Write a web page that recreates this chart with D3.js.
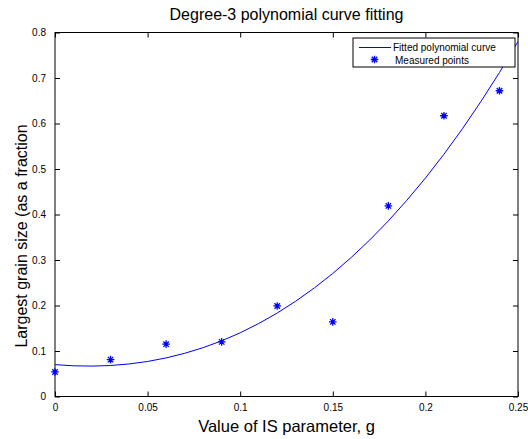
<!DOCTYPE html>
<html>
<head>
<meta charset="utf-8">
<script src="https://cdn.jsdelivr.net/npm/d3@7"></script>
<style>
  html, body { margin: 0; background: #fff; overflow: hidden; }
  svg { display: block; }
  text { font-family: "Liberation Sans", Arial, sans-serif; }
</style>
</head>
<body>
<svg id="chart"></svg>
<script>
// measured points
const gValues = [0, 0.03, 0.06, 0.09, 0.12, 0.15, 0.18, 0.21, 0.24];
const grainValues = [0.054, 0.081, 0.115, 0.12, 0.199, 0.164, 0.419, 0.617, 0.672];

// fitted curve
const curveG = [0, 0.01, 0.02, 0.03, 0.04, 0.05, 0.06, 0.07, 0.08, 0.09, 0.1, 0.11, 0.12, 0.13,
  0.14, 0.15, 0.16, 0.17, 0.18, 0.19, 0.2, 0.21, 0.22, 0.23, 0.24, 0.25];
const curveValues = [0.070, 0.0675, 0.0668, 0.0681, 0.0715, 0.077, 0.0848, 0.0949, 0.1074, 0.1224,
  0.14, 0.1604, 0.1835, 0.2095, 0.2385, 0.2705, 0.3058, 0.3442, 0.386, 0.4313, 0.48, 0.5324,
  0.5885, 0.6485, 0.7121, 0.78];

const xTicks = [0, 0.05, 0.1, 0.15, 0.2, 0.25];
const yTicks = [0, 0.1, 0.2, 0.3, 0.4, 0.5, 0.6, 0.7, 0.8];

const width = 528;
const height = 439;
const margin = { top: 32.5, right: 10, bottom: 42.5, left: 55 };
const innerWidth = width - margin.left - margin.right;
const innerHeight = height - margin.top - margin.bottom;

const svg = d3.select("#chart").attr("width", width).attr("height", height);
const g = svg.append("g").attr("transform", `translate(${margin.left},${margin.top})`);

const x = d3.scaleLinear().domain([0, 0.25]).range([0, innerWidth]);
const y = d3.scaleLinear().domain([0, 0.8]).range([innerHeight, 0]);

const fmt = (d) => (d === 0 ? "0" : String(d));

// axes, ticks inward like matlab
const styleAxis = (sel) => {
  sel.select(".domain").remove();
  sel.selectAll("line").attr("stroke", "#000");
  sel.selectAll("text").style("font-size", "10px").attr("fill", "#000");
};
const bareAxis = (sel) => {
  styleAxis(sel);
  sel.selectAll("text").remove();
};

g.append("g").attr("transform", `translate(0,${innerHeight})`)
  .call(d3.axisBottom(x).tickValues(xTicks).tickFormat(fmt).tickSizeInner(-5).tickSizeOuter(0).tickPadding(7))
  .call(styleAxis);
g.append("g")
  .call(d3.axisTop(x).tickValues(xTicks).tickSizeInner(-5).tickSizeOuter(0))
  .call(bareAxis);
g.append("g")
  .call(d3.axisLeft(y).tickValues(yTicks).tickFormat(fmt).tickSizeInner(-5).tickSizeOuter(0).tickPadding(9))
  .call(styleAxis);
g.append("g").attr("transform", `translate(${innerWidth},0)`)
  .call(d3.axisRight(y).tickValues(yTicks).tickSizeInner(-5).tickSizeOuter(0))
  .call(bareAxis);

g.append("rect")
  .attr("width", innerWidth).attr("height", innerHeight)
  .attr("fill", "none").attr("stroke", "#000").attr("stroke-width", 1);

// curve
const line = d3.line().x((d, i) => x(curveG[i])).y((d) => y(d));
g.append("path")
  .datum(curveValues)
  .attr("fill", "none")
  .attr("stroke", "#0000ff")
  .attr("stroke-width", 1)
  .attr("d", line);

// asterisk marker
const star = (r) => {
  const k = r * 0.72;
  return `M${-r},0H${r}M0,${-r}V${r}M${-k},${-k}L${k},${k}M${-k},${k}L${k},${-k}`;
};

g.selectAll(".pt")
  .data(grainValues)
  .enter()
  .append("path")
  .attr("class", "pt")
  .attr("transform", (d, i) => `translate(${x(gValues[i])},${y(d)})`)
  .attr("d", star(3.8))
  .attr("stroke", "#0000ff")
  .attr("stroke-width", 1.3)
  .attr("fill", "none");

// legend
const legend = svg.append("g").attr("transform", "translate(353,38)");
legend.append("rect").attr("width", 162).attr("height", 29)
  .attr("fill", "#fff").attr("stroke", "#000");
legend.append("line").attr("x1", 6).attr("x2", 38).attr("y1", 9.5).attr("y2", 9.5)
  .attr("stroke", "#0000ff");
legend.append("text").attr("x", 40).attr("y", 13).style("font-size", "10px")
  .text("Fitted polynomial curve");
legend.append("path").attr("transform", "translate(21.5,21.5)").attr("d", star(3.8))
  .attr("stroke", "#0000ff").attr("stroke-width", 1.3).attr("fill", "none");
legend.append("text").attr("x", 42).attr("y", 26).style("font-size", "10px")
  .text("Measured points");

// title and axis labels
svg.append("text")
  .attr("x", margin.left + innerWidth / 2)
  .attr("y", 20)
  .attr("text-anchor", "middle")
  .style("font-size", "16px")
  .text("Degree-3 polynomial curve fitting");

svg.append("text")
  .attr("x", margin.left + innerWidth / 2)
  .attr("y", 432)
  .attr("text-anchor", "middle")
  .style("font-size", "16.5px")
  .text("Value of IS parameter, g");

svg.append("text")
  .attr("transform", "rotate(-90)")
  .attr("x", -236)
  .attr("y", 27)
  .attr("text-anchor", "middle")
  .style("font-size", "16px")
  .text("Largest grain size (as a fraction");
</script>
</body>
</html>
